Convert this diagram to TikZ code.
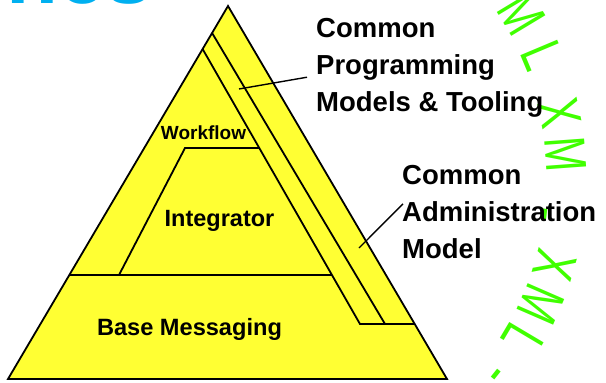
\documentclass[tikz,border=0pt]{standalone}
\usepackage{fontspec}
\setsansfont{Liberation Sans}
\newfontfamily\xmlfont[FakeStretch=0.72]{Liberation Sans}
\definecolor{amarillo}{RGB}{255,255,51}
\definecolor{verdexml}{RGB}{64,255,0}
\definecolor{cian}{RGB}{0,176,240}
\tikzset{
  capa/.style={draw=black, line width=1.8pt, line join=miter},
  rotulo/.style={font=\sffamily\bfseries\fontsize{27.5}{37}\selectfont, align=left, inner sep=0pt, anchor=north west},
  nivel/.style={font=\sffamily\bfseries, inner sep=0pt, anchor=base},
  xmlletra/.style={font=\xmlfont\fontsize{58}{58}\selectfont, text=verdexml, inner sep=0pt, anchor=base},
  puntero/.style={draw=black, line width=1.4pt}
}
\begin{document}
\begin{tikzpicture}[x=1pt,y=-1pt]
  \useasboundingbox (0,0) rectangle (606,383);
  \clip (0,0) rectangle (606,383);
  % Resto del titulo (cortado arriba)
  \node[font=\sffamily\bfseries\fontsize{85}{85}\selectfont, text=cian, inner sep=0pt, anchor=base west] (titulo) at (6,3) {nes};
  % Texto XML en arco
  \foreach \c/\a/\r in {M/-31.1/297, L/-22.8/297, X/-11.8/297, M/-4.2/297, -/7.1/282,
                        X/16/297, M/23.5/297, L/30.7/297, -/38.6/300}
    \node[xmlletra, rotate={-90-(\a)}] at ([shift={(\a:\r)}]250,178) {\c};
  % Piramide exterior
  \coordinate (apex) at (228,6);
  \coordinate (bl) at (8,379);
  \coordinate (br) at (447,379);
  \filldraw[capa, fill=amarillo] (apex) -- (br) -- (bl) -- cycle;
  % Bandas de la derecha
  \draw[capa] (202.6,49) -- (360,324) -- (414.7,324);
  \draw[capa] (212.1,33) -- (385,324);
  % Base y trapecio del integrador
  \draw[capa] (69.3,275) -- (332,275);
  \draw[capa] (119,275) -- (185,148) -- (259.3,148);
  % Niveles
  \node[nivel, font=\sffamily\bfseries\fontsize{19}{19}\selectfont] (workflow) at (203.5,139.3) {Workflow};
  \node[nivel, font=\sffamily\bfseries\fontsize{23.5}{23.5}\selectfont] (integrator) at (219.5,226) {Integrator};
  \node[nivel, font=\sffamily\bfseries\fontsize{23.6}{23.6}\selectfont] (base) at (189.5,335) {Base Messaging};
  % Rotulos de la derecha
  \node[rotulo] (prog) at (316,18) {Common\\Programming\\Models \& Tooling};
  \node[rotulo] (admin) at (402,165) {Common\\Administration\\Model};
  % Punteros
  \coordinate (progpt) at (239,89);
  \coordinate (adminpt) at (359,248);
  \draw[puntero] ([xshift=-9pt,yshift=-9.5pt]prog.west) -- (progpt);
  \draw[puntero] ([xshift=1pt,yshift=8pt]admin.west) -- (adminpt);
\end{tikzpicture}
\end{document}
